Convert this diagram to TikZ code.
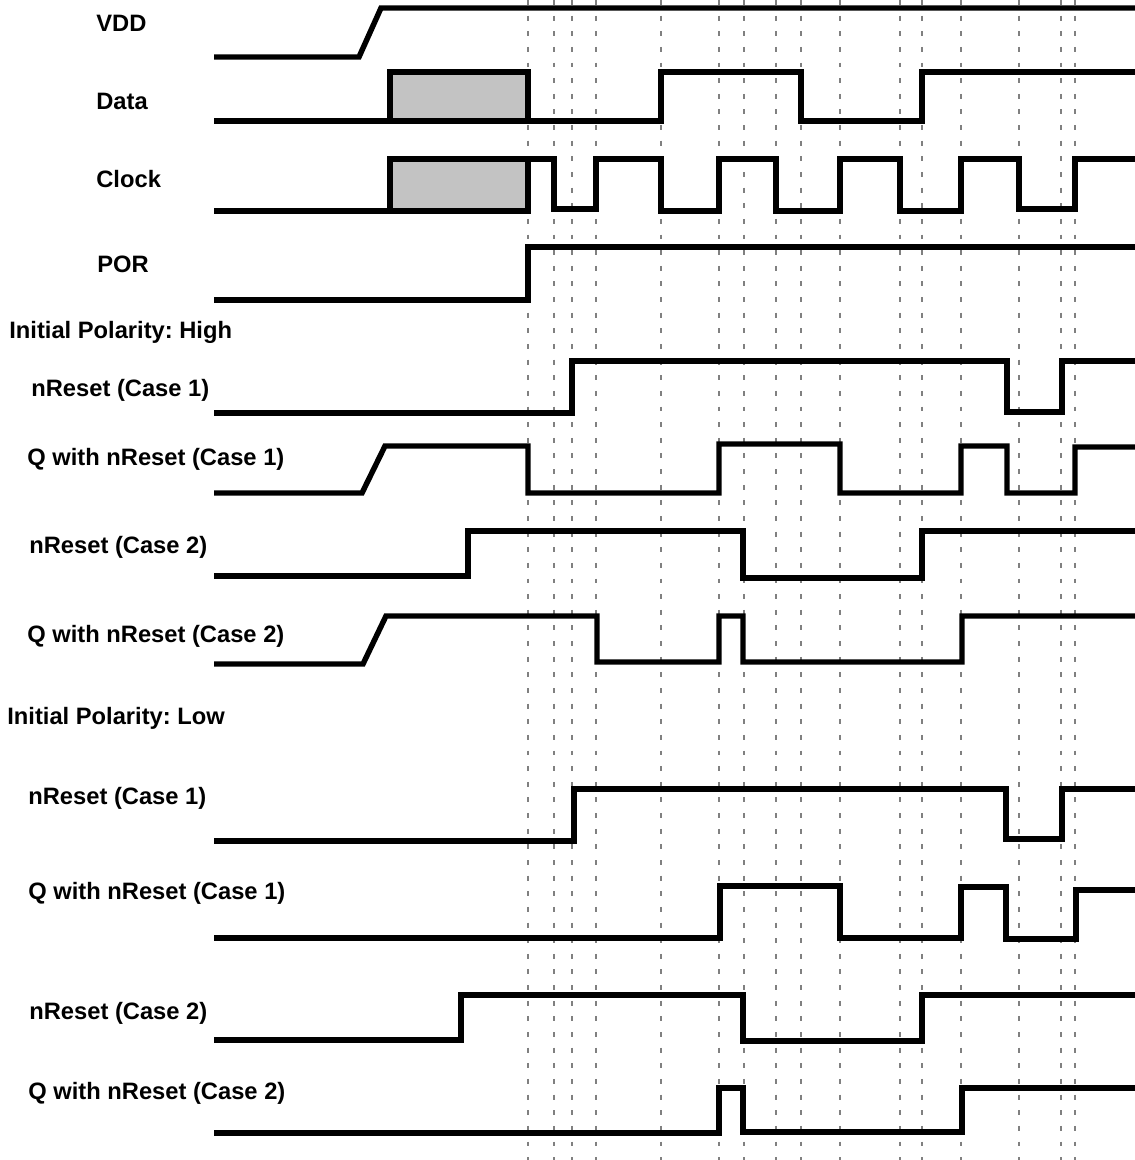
\documentclass[tikz,border=0pt]{standalone}
\usepackage{fontspec}
\setmainfont{Liberation Sans}
\usepackage{tikz}
\definecolor{boxfill}{RGB}{195,195,195}
\definecolor{guidegray}{RGB}{128,128,128}
\frenchspacing

\begin{document}
\begin{tikzpicture}[x=0.02cm, y=-0.02cm,
    wave/.style={black, line width=3.1pt},
    guide/.style={guidegray, line width=1.35pt, dash pattern=on 2.8pt off 6.1pt},
    lbl/.style={anchor=base west, inner sep=0pt, font=\fontsize{13.5}{16}\selectfont\bfseries}]
    \useasboundingbox (0,0) rectangle (1135,1160);
    \draw[guide] (528,0) -- (528,1160);
    \draw[guide] (554,0) -- (554,1160);
    \draw[guide] (572,0) -- (572,1160);
    \draw[guide] (596,0) -- (596,1160);
    \draw[guide] (661,0) -- (661,1160);
    \draw[guide] (719,0) -- (719,1160);
    \draw[guide] (744,0) -- (744,1160);
    \draw[guide] (776,0) -- (776,1160);
    \draw[guide] (801,0) -- (801,1160);
    \draw[guide] (840,0) -- (840,1160);
    \draw[guide] (900,0) -- (900,1160);
    \draw[guide] (922,0) -- (922,1160);
    \draw[guide] (961,0) -- (961,1160);
    \draw[guide] (1019,0) -- (1019,1160);
    \draw[guide] (1061,0) -- (1061,1160);
    \draw[guide] (1075,0) -- (1075,1160);
    \node[lbl] (vdd) at (96,31) {VDD};
    \node[lbl] (data) at (96,109) {Data};
    \node[lbl] (clock) at (96,187) {Clock};
    \node[lbl] (por) at (97,272) {POR};
    \node[lbl] (polhigh) at (9,338) {Initial Polarity: High};
    \node[lbl] (hreset1) at (31,396) {nReset (Case 1)};
    \node[lbl] (hq1) at (27,465) {Q with nReset (Case 1)};
    \node[lbl] (hreset2) at (29,553) {nReset (Case 2)};
    \node[lbl] (hq2) at (27,642) {Q with nReset (Case 2)};
    \node[lbl] (pollow) at (7,724) {Initial Polarity: Low};
    \node[lbl] (lreset1) at (28,804) {nReset (Case 1)};
    \node[lbl] (lq1) at (28,899) {Q with nReset (Case 1)};
    \node[lbl] (lreset2) at (29,1019) {nReset (Case 2)};
    \node[lbl] (lq2) at (28,1099) {Q with nReset (Case 2)};
    \draw[wave] (214,57) -- (359,57) -- (381,8) -- (1135,8);
    \filldraw[wave, fill=boxfill] (390,72) rectangle (528,121);
    \draw[wave] (214,121) -- (661,121) -- (661,72) -- (801,72) -- (801,121) -- (922,121) -- (922,72) -- (1135,72);
    \filldraw[wave, fill=boxfill] (390,159) rectangle (528,211);
    \draw[wave] (214,211) -- (390,211);
    \draw[wave] (528,159) -- (554,159) -- (554,209) -- (596,209) -- (596,159) -- (661,159) -- (661,211) -- (719,211) -- (719,159) -- (776,159) -- (776,211) -- (840,211) -- (840,159) -- (900,159) -- (900,211) -- (961,211) -- (961,159) -- (1019,159) -- (1019,209) -- (1075,209) -- (1075,159) -- (1135,159);
    \draw[wave] (214,300) -- (528,300) -- (528,247) -- (1135,247);
    \draw[wave] (214,413) -- (572,413) -- (572,361) -- (1007,361) -- (1007,412) -- (1062,412) -- (1062,361) -- (1135,361);
    \draw[wave] (214,493) -- (362,493) -- (385,446) -- (528,446) -- (528,493) -- (719,493) -- (719,444) -- (840,444) -- (840,493) -- (961,493) -- (961,446) -- (1007,446) -- (1007,493) -- (1075,493) -- (1075,447) -- (1135,447);
    \draw[wave] (214,576) -- (468,576) -- (468,531) -- (743,531) -- (743,578) -- (922,578) -- (922,531) -- (1135,531);
    \draw[wave] (214,664) -- (363,664) -- (386,616) -- (597,616) -- (597,662) -- (719,662) -- (719,616) -- (743,616) -- (743,662) -- (962,662) -- (962,616) -- (1135,616);
    \draw[wave] (214,841) -- (574,841) -- (574,789) -- (1006,789) -- (1006,839) -- (1062,839) -- (1062,789) -- (1135,789);
    \draw[wave] (214,938) -- (720,938) -- (720,886) -- (840,886) -- (840,938) -- (961,938) -- (961,887) -- (1006,887) -- (1006,939) -- (1076,939) -- (1076,890) -- (1135,890);
    \draw[wave] (214,1040) -- (461,1040) -- (461,995) -- (743,995) -- (743,1041) -- (922,1041) -- (922,995) -- (1135,995);
    \draw[wave] (214,1133) -- (719,1133) -- (719,1088) -- (743,1088) -- (743,1132) -- (962,1132) -- (962,1088) -- (1135,1088);
\end{tikzpicture}
\end{document}
